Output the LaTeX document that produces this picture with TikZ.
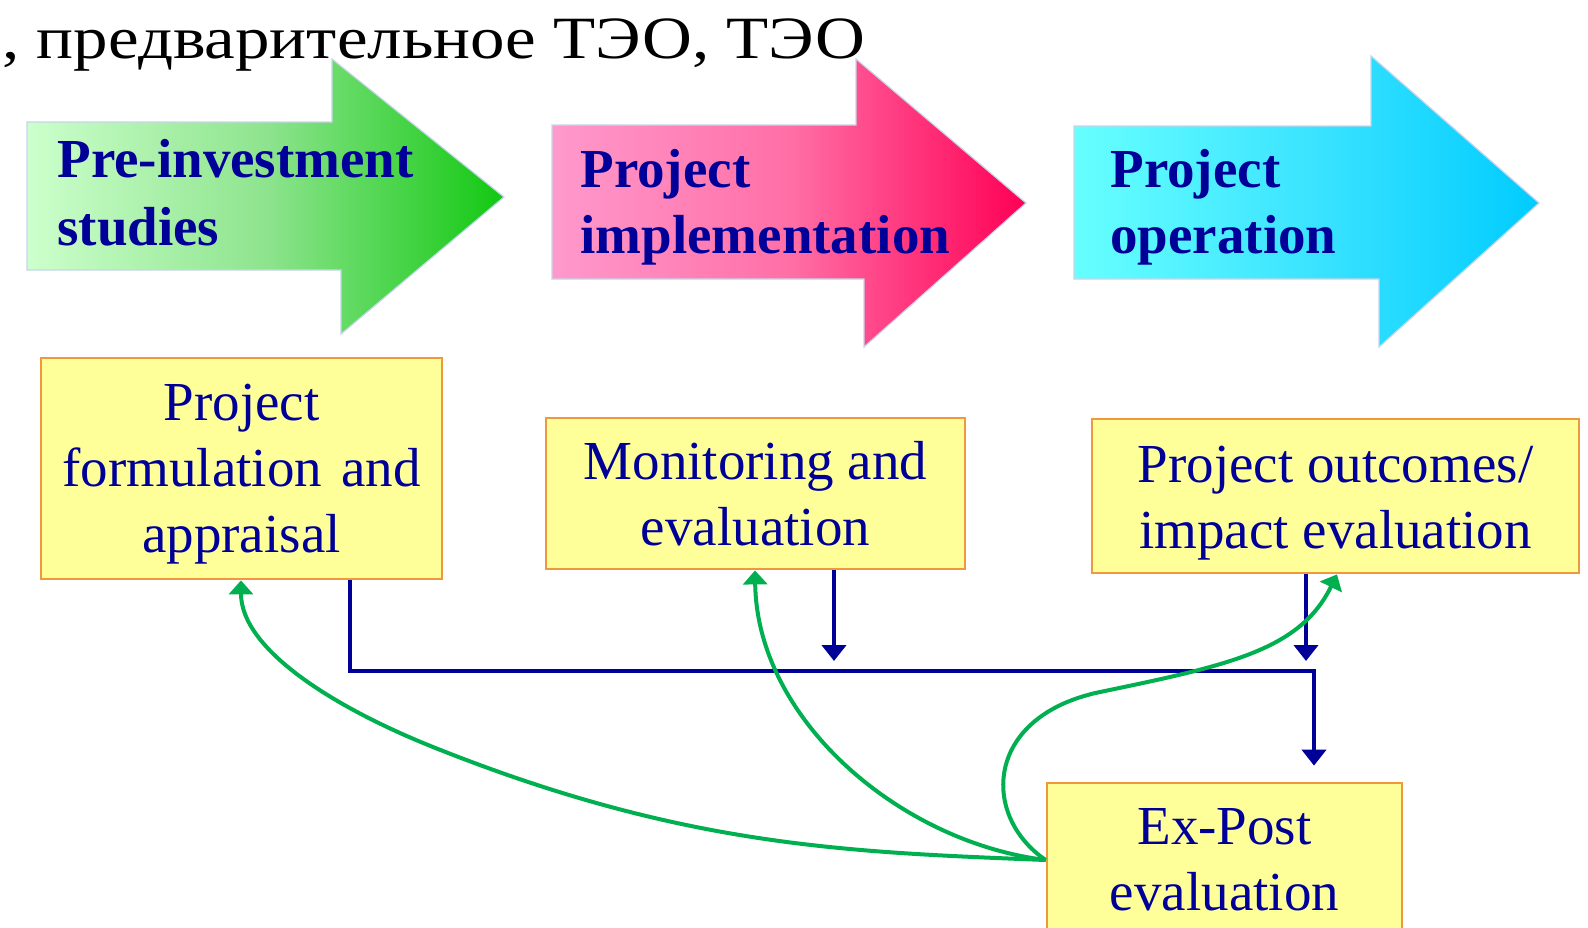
\documentclass[tikz,border=0pt]{standalone}
\usepackage{fontspec}
\setmainfont{Liberation Serif}
\usetikzlibrary{arrows.meta,calc}
\definecolor{navy}{HTML}{000099}
\definecolor{boxfill}{HTML}{FFFF99}
\definecolor{boxline}{HTML}{F0993C}
\definecolor{grn}{HTML}{00B050}
\definecolor{arrline}{HTML}{C6D6EA}
\definecolor{gA}{HTML}{CCFFCC}
\definecolor{gM}{HTML}{8EE48E}
\definecolor{gB}{HTML}{12C812}
\definecolor{pA}{HTML}{FF99CC}
\definecolor{pM}{HTML}{FF6FA6}
\definecolor{pB}{HTML}{FF0055}
\definecolor{cA}{HTML}{66FFFF}
\definecolor{cM}{HTML}{3CE4FF}
\definecolor{cB}{HTML}{00CCFF}
\begin{document}
\begin{tikzpicture}[x=0.5pt,y=-0.5pt,
  box/.style={draw=boxline, line width=1.4pt, fill=boxfill, inner sep=0pt},
  boxtext/.style={text=navy, font=\fontsize{27.5}{33}\selectfont, align=center, anchor=base, inner sep=0pt},
  phasetext/.style={text=navy, align=left, anchor=base west, inner sep=0pt},
  flow/.style={draw=navy, line width=2.3pt, -{Triangle[width=12pt,length=8pt]}},
  fb/.style={draw=grn, line width=2pt, -{Triangle[width=12pt,length=7pt]}},
  phase/.style={draw=arrline, line width=0.6pt}]
\clip (0,0) rectangle (1588,927);
\fill[white] (0,0) rectangle (1588,927);
% phase arrows
\path[phase, left color=gA, right color=gB, middle color=gM]
  (27,122) -- (332,122) -- (332,59) -- (504,197) -- (341,334) -- (341,270) -- (27,270) -- cycle;
\path[phase, left color=pA, right color=pB, middle color=pM]
  (552,125) -- (856,125) -- (856,59) -- (1026,203) -- (864,347) -- (864,279) -- (552,279) -- cycle;
\path[phase, left color=cA, right color=cB, middle color=cM]
  (1074,126) -- (1371,126) -- (1371,56) -- (1539,203) -- (1379,347) -- (1379,279) -- (1074,279) -- cycle;
\node[phasetext, font=\fontsize{27.5}{34}\selectfont\bfseries] (p1) at (57,245) {Pre-investment\\studies};
\node[phasetext, font=\fontsize{27.5}{33}\selectfont\bfseries] (p2) at (580,253) {Project\\implementation};
\node[phasetext, font=\fontsize{27.5}{33}\selectfont\bfseries] (p3) at (1110,253) {Project\\operation};
% heading fragment
\node[anchor=base west, inner sep=0pt, font=\fontsize{30}{36}\selectfont] (ru) at (2,58) {\scalebox{1.15}[1]{, предварительное ТЭО, ТЭО}};
% boxes
\node[box, minimum width=200.5pt, minimum height=110.5pt] (b1) at (241.5,468.5) {};
\node[boxtext] (t1) at (241.5,552) {Project\\formulation\hspace{0.1em} and\\appraisal};
\node[box, minimum width=209.5pt, minimum height=75.5pt] (b2) at (755.5,493.5) {};
\node[boxtext] (t2) at (755.5,545) {Monitoring and\\evaluation};
\node[box, minimum width=243.5pt, minimum height=77pt] (b3) at (1335.5,496) {};
\node[boxtext] (t3) at (1335.5,548) {Project outcomes/\\impact evaluation};
\node[box, minimum width=177.5pt, minimum height=108.5pt] (b4) at (1224.5,891.5) {};
\node[boxtext] (t4) at (1224.5,910) {Ex-Post\\evaluation};
% blue flow
\coordinate (j1) at (350,671);
\coordinate (j2) at (1314,671);
\coordinate (a2) at (834,661);
\coordinate (a3) at (1306,661);
\draw[flow, shorten >=8pt] (b1.south -| j1) -- (j1) -- (j2) -- (b4.north -| j2);
\draw[flow] (b2.south -| a2) -- (a2);
\draw[flow] (b3.south -| a3) -- (a3);
% green feedback
\coordinate (ey) at (0,860);
\coordinate (e) at (b4.west |- ey);
\coordinate (g1) at (241,0);
\coordinate (g2) at (755,0);
\coordinate (g3) at (1337,0);
\draw[fb] (e) .. controls (847,852) and (683,847) .. (433,747) .. controls (333,707) and (241,649) .. (b1.south -| g1);
\draw[fb] (e) .. controls (900,842) and (757,720) .. (b2.south -| g2);
\draw[fb] (e) .. controls (980,815) and (985,716) .. (1100,692) .. controls (1230,665) and (1300,650) .. (b3.south -| g3);
\end{tikzpicture}
\end{document}
